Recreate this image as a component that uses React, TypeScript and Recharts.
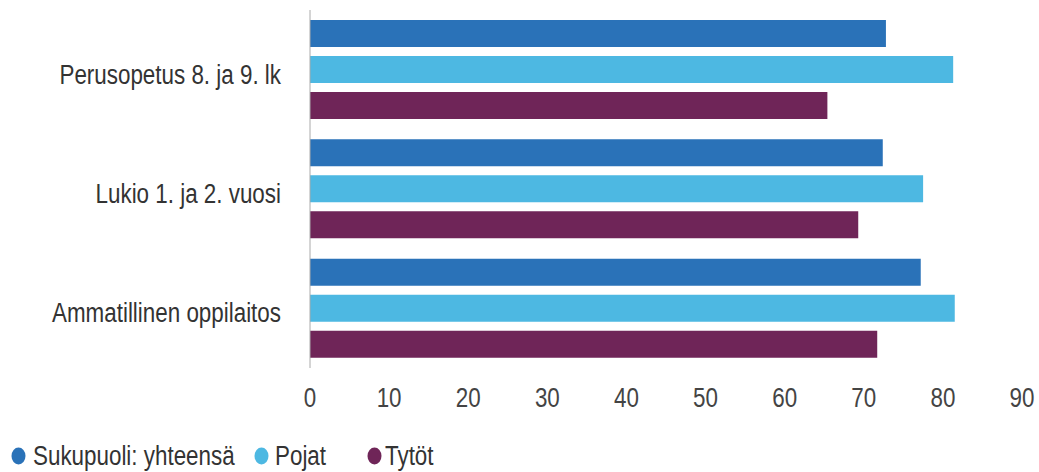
import React from "react";
import { BarChart, Bar, XAxis, YAxis } from "recharts";

const categories = ["Perusopetus 8. ja 9. lk", "Lukio 1. ja 2. vuosi", "Ammatillinen oppilaitos"];
const yhteensa = [72.8, 72.4, 77.2];
const pojat = [81.3, 77.5, 81.5];
const tytot = [65.4, 69.3, 71.7];
const xTicks = [0, 10, 20, 30, 40, 50, 60, 70, 80, 90];

const seriesNames = ["Sukupuoli: yhteensä", "Pojat", "Tytöt"];
const colors = ["#2a72b8", "#4db8e2", "#6f2558"];

const FONT = "'Liberation Sans', Arial, sans-serif";
const SQUEEZE = 0.8;

const data = categories.map((name, i) => ({
  name,
  yhteensa: yhteensa[i],
  pojat: pojat[i],
  tytot: tytot[i],
}));

// narrow text: the source uses a condensed face, so squeeze a regular one
const NarrowText = ({ x, y, anchor, children, fill = "#333" }: any) => (
  <text
    transform={`translate(${x},${y}) scale(${SQUEEZE},1)`}
    textAnchor={anchor}
    fill={fill}
    fontSize={28}
    fontFamily={FONT}
  >
    {children}
  </text>
);

const YTick = (props: any) => {
  const { x, y, payload } = props;
  return (
    <NarrowText x={x} y={y + 14} anchor="end">
      {payload.value}
    </NarrowText>
  );
};

const XTick = (props: any) => {
  const { x, y, payload } = props;
  return (
    <NarrowText x={x} y={y + 39} anchor="middle" fill="#444">
      {payload.value}
    </NarrowText>
  );
};

const legendCircleX = [18.5, 261.5, 374.5];
const legendTextX = [33, 275, 385];

const LegendRow = () => (
  <svg width={1039} height={472} style={{ position: "absolute", left: 0, top: 0, pointerEvents: "none" }}>
    {seriesNames.map((n, i) => (
      <g key={n}>
        <ellipse cx={legendCircleX[i]} cy={456} rx={7} ry={8.5} fill={colors[i]} />
        <NarrowText x={legendTextX[i]} y={465} anchor="start">
          {n}
        </NarrowText>
      </g>
    ))}
  </svg>
);

export default function App() {
  return (
    <div style={{ position: "absolute", left: 0, top: 0, background: "#fff", width: 1039, height: 472, overflow: "hidden" }}>
      <BarChart
        width={1039}
        height={472}
        data={data}
        layout="vertical"
        margin={{ top: 10, right: 17, left: 0, bottom: 0 }}
        barSize={27}
        barGap={9}
        barCategoryGap="8%"
      >
        <XAxis
          type="number"
          domain={[0, 90]}
          ticks={xTicks}
          axisLine={false}
          tickLine={false}
          tickSize={0}
          tickMargin={0}
          tick={<XTick />}
          height={104}
        />
        <YAxis
          type="category"
          dataKey="name"
          width={310}
          axisLine={{ stroke: "#aaa" }}
          tickLine={false}
          tickSize={0}
          tickMargin={29}
          tick={<YTick />}
        />
        <Bar dataKey="yhteensa" name={seriesNames[0]} fill={colors[0]} isAnimationActive={false} />
        <Bar dataKey="pojat" name={seriesNames[1]} fill={colors[1]} isAnimationActive={false} />
        <Bar dataKey="tytot" name={seriesNames[2]} fill={colors[2]} isAnimationActive={false} />
      </BarChart>
      <LegendRow />
    </div>
  );
}
